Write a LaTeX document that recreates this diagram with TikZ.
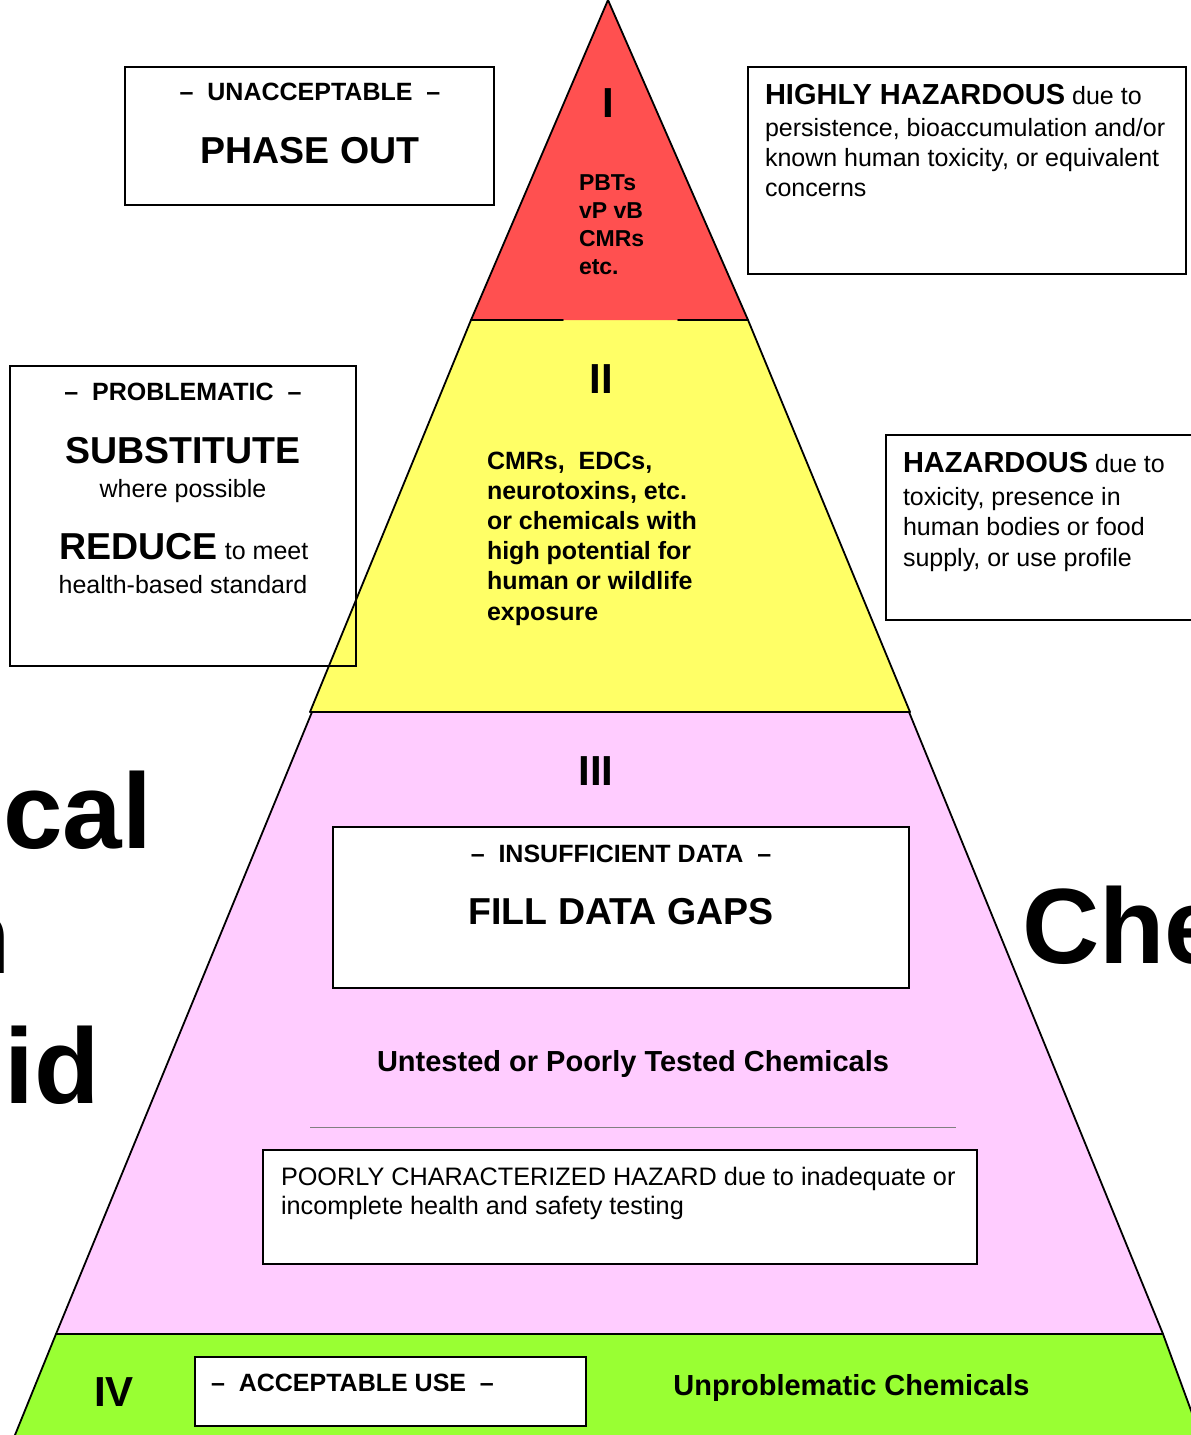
\documentclass[tikz,border=0pt]{standalone}
\usepackage{fontspec}
\setmainfont{Liberation Sans}
\newcommand\fsz[1]{\fontsize{#1}{#1}\selectfont}
\definecolor{lvred}{RGB}{255,80,80}
\definecolor{lvyellow}{RGB}{255,255,102}
\definecolor{lvpink}{RGB}{255,204,255}
\definecolor{lvgreen}{RGB}{153,255,51}
\begin{document}
\begin{tikzpicture}[x=1pt,y=-1pt,
  t/.style={inner sep=0pt, outer sep=0pt},
  tb/.style={t, font=\fsz{25}\bfseries},
  tr/.style={t, font=\fsz{25}},
  tbig/.style={t, font=\fsz{37.5}\bfseries},
  tnum/.style={t, font=\fsz{42}\bfseries},
  thuge/.style={t, font=\fsz{107}\bfseries},
  tmid/.style={t, font=\fsz{29}\bfseries},
  tier/.style={draw=black, line width=1.8pt, line join=round, line cap=round},
  frame/.style={draw=black, line width=2pt, fill=white, inner sep=0pt, outer sep=0pt}
]
\useasboundingbox (0,0) rectangle (1191,1435);
\clip (0,0) rectangle (1191,1435);
\fill[white] (0,0) rectangle (1191,1435);

% large title fragments
\node[thuge, anchor=base east] (wcal) at (152,848) {cal};
\node[thuge, anchor=base east] (wn) at (10.5,973) {n};
\node[thuge, anchor=base east] (wid) at (100,1103) {id};
\node[thuge, anchor=base west] (wche) at (1022,963) {Che};

% tier IV (green)
\coordinate (g1) at (56,1334);
\coordinate (g2) at (1163,1334);
\coordinate (g3) at (1200,1435);
\coordinate (g4) at (15,1435);
\fill[lvgreen] (g1) -- (g2) -- (g3) -- (g4) -- cycle;
\draw[tier] (g1) -- (g4);
\draw[tier] (g2) -- (g3);

% tier III (pink)
\coordinate (p1) at (312,712);
\coordinate (p2) at (909,712);
\coordinate (p3) at (1163,1334);
\coordinate (p4) at (56,1334);
\fill[lvpink] (p1) -- (p2) -- (p3) -- (p4) -- cycle;
\draw[tier] (p1) -- (p2) -- (p3) -- (p4) -- cycle;

% tier II (yellow)
\coordinate (y1) at (471,320);
\coordinate (y2) at (748,320);
\coordinate (y3) at (910,712);
\coordinate (y4) at (310,712);
\fill[lvyellow] (y1) -- (y2) -- (y3) -- (y4) -- cycle;
\draw[tier] (y2) -- (y3) -- (y4) -- (y1);

% tier I (red)
\coordinate (r0) at (608,0);
\coordinate (r1) at (748,320);
\coordinate (r2) at (471,320);
\coordinate (rg1) at (563,320);
\coordinate (rg2) at (678,320);
\fill[lvred] (r0) -- (r1) -- (r2) -- cycle;
\draw[tier] (r2) -- (r0) -- (r1);
\draw[tier] (r2) -- (rg1);
\draw[tier] (rg2) -- (r1);

% separator in tier III
\coordinate (s1) at (310,1127);
\coordinate (s2) at (956,1127);
\draw[gray, line width=0.9pt] (s1) -- (s2);

% tier labels
\node[tnum, anchor=base] (nI) at (608,117) {I};
\node[tnum, anchor=base] (nII) at (601,393) {II};
\node[tnum, anchor=base] (nIII) at (596,785) {III};
\node[tnum, anchor=base] (nIV) at (114,1406) {IV};

% tier I text
\node[t, font=\fsz{23}\bfseries, anchor=base west] (r1a) at (579,190) {PBTs};
\node[t, font=\fsz{23}\bfseries, anchor=base west] (r1b) at (579,218) {vP vB};
\node[t, font=\fsz{23}\bfseries, anchor=base west] (r1c) at (579,246) {CMRs};
\node[t, font=\fsz{23}\bfseries, anchor=base west] (r1d) at (579,274) {etc.};

% tier II text
\node[tb, anchor=base west] (y1a) at (487,469) {CMRs,\ \ EDCs,};
\node[tb, anchor=base west] (y1b) at (487,499) {neurotoxins, etc.};
\node[tb, anchor=base west] (y1c) at (487,529) {or chemicals with};
\node[tb, anchor=base west] (y1d) at (487,559.5) {high potential for};
\node[tb, anchor=base west] (y1e) at (487,589.5) {human or wildlife};
\node[tb, anchor=base west] (y1f) at (487,620) {exposure};

% box: phase out
\node[frame, minimum width=369pt, minimum height=138pt] (bphase) at (309.5,136) {};
\node[tb, anchor=base] (bphase1) at (310,100) {–\ \ UNACCEPTABLE\ \ –};
\node[tbig, anchor=base] (bphase2) at (310,163) {PHASE OUT};

% box: highly hazardous
\node[frame, minimum width=438pt, minimum height=207pt] (bhigh) at (967,170.5) {};
\node[tr, anchor=base west] (bhigh1) at (765,104) {{\fsz{29}\bfseries HIGHLY HAZARDOUS} due to};
\node[tr, anchor=base west] (bhigh2) at (765,136.5) {persistence, bioaccumulation and/or};
\node[tr, anchor=base west] (bhigh3) at (765,166.5) {known human toxicity, or equivalent};
\node[tr, anchor=base west] (bhigh4) at (765,196.5) {concerns};

% box: problematic
\node[frame, fill=none, minimum width=346pt, minimum height=300pt] (bprob) at (183,516) {};
\node[tb, anchor=base] (bprob1) at (183,400) {–\ \ PROBLEMATIC\ \ –};
\node[tbig, anchor=base] (bprob2) at (183,463) {SUBSTITUTE};
\node[tr, anchor=base] (bprob3) at (183,497) {where possible};
\node[tr, anchor=base] (bprob4) at (184,559) {{\fsz{37.5}\bfseries REDUCE} to meet};
\node[tr, anchor=base] (bprob5) at (183,593) {health-based standard};

% box: hazardous
\node[frame, minimum width=319pt, minimum height=185pt] (bhaz) at (1045.5,527.5) {};
\node[tr, anchor=base west] (bhaz1) at (903,472) {{\fsz{29}\bfseries HAZARDOUS} due to};
\node[tr, anchor=base west] (bhaz2) at (903,505) {toxicity, presence in};
\node[tr, anchor=base west] (bhaz3) at (903,535) {human bodies or food};
\node[tr, anchor=base west] (bhaz4) at (903,566) {supply, or use profile};

% box: insufficient data
\node[frame, minimum width=576pt, minimum height=161pt] (bins) at (621,907.5) {};
\node[tb, anchor=base] (bins1) at (621,862) {–\ \ INSUFFICIENT DATA\ \ –};
\node[tbig, anchor=base] (bins2) at (621,924) {FILL DATA GAPS};

\node[tmid, anchor=base] (untested) at (633,1071) {Untested or Poorly Tested Chemicals};

% box: poorly characterized
\node[frame, minimum width=714pt, minimum height=114pt] (bpoor) at (620,1207) {};
\node[t, font=\fsz{25.25}, anchor=base west] (bpoor1) at (281,1185) {POORLY CHARACTERIZED HAZARD due to inadequate or};
\node[t, font=\fsz{25.25}, anchor=base west] (bpoor2) at (281,1214) {incomplete health and safety testing};

% box: acceptable use
\node[frame, minimum width=391pt, minimum height=69pt] (bacc) at (390.5,1391.5) {};
\node[tb, anchor=base west] (bacc1) at (211,1391) {–\ \ ACCEPTABLE USE\ \ –};

\node[tmid, anchor=base] (unprob) at (851.5,1395) {Unproblematic Chemicals};
\end{tikzpicture}
\end{document}
